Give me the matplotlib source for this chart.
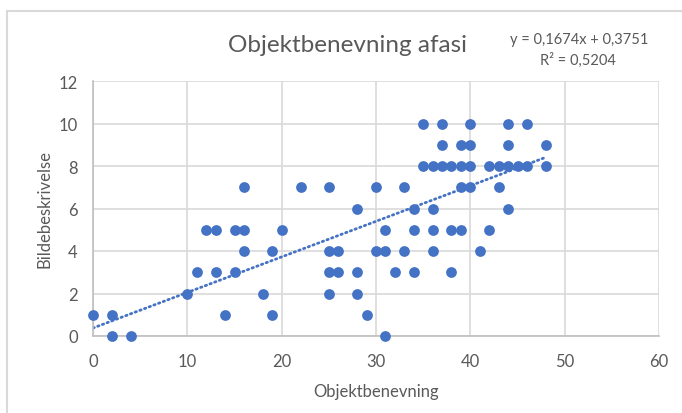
import matplotlib.pyplot as plt
from matplotlib.patches import Rectangle
import numpy as np

plt.rcParams['font.family'] = ['Lato', 'DejaVu Sans']

# data (x = Objektbenevning, y = Bildebeskrivelse)
objekt = [0, 2, 2, 4, 10, 11, 13, 15, 12, 13, 15, 16, 16, 16, 14, 18, 19, 19, 20,
          22, 25, 25, 25, 25, 26, 26, 28, 28, 28, 29, 30, 30, 31, 31, 31, 32, 33, 33,
          34, 34, 34, 35, 35, 36, 36, 36, 36, 37, 37, 37, 38, 38, 38, 39, 39, 39, 39,
          40, 40, 40, 40, 41, 42, 42, 43, 43, 44, 44, 44, 44, 45, 46, 46, 48, 48]
bilde = [1, 1, 0, 0, 2, 3, 3, 3, 5, 5, 5, 5, 4, 7, 1, 2, 4, 1, 5,
         7, 7, 4, 3, 2, 4, 3, 6, 3, 2, 1, 7, 4, 4, 5, 0, 3, 7, 4,
         6, 5, 3, 10, 8, 8, 6, 5, 4, 10, 9, 8, 8, 5, 3, 9, 8, 7, 5,
         10, 9, 8, 7, 4, 8, 5, 8, 7, 10, 9, 8, 6, 8, 10, 8, 9, 8]

# Excel linear trendline
slope = 0.1674
intercept = 0.3751
r2 = 0.5204

blue = '#4472C4'
grey_txt = '#595959'

fig = plt.figure(figsize=(6.82, 4.14), dpi=100)
# chart border (cropped on right/bottom in the original)
fig.patches.append(Rectangle((7 / 682, -0.1), 1.2, 1.1 - 12 / 414,
                             transform=fig.transFigure, fill=False,
                             edgecolor='#D9D9D9', lw=1.5))

ax = fig.add_axes([93 / 682, 77 / 414, 566 / 682, 255 / 414])
ax.set_xlim(0, 60)
ax.set_ylim(0, 12)
ax.set_xticks(range(0, 61, 10))
ax.set_yticks(range(0, 13, 2))
ax.grid(True, color='#D9D9D9', lw=1.2)
ax.set_axisbelow(True)
for s in ['top', 'right']:
    ax.spines[s].set_visible(False)
for s in ['left', 'bottom']:
    ax.spines[s].set_color('#BFBFBF')
    ax.spines[s].set_linewidth(1.2)
ax.tick_params(length=0, labelsize=12, labelcolor=grey_txt)
ax.tick_params(axis='x', pad=12)
ax.tick_params(axis='y', pad=11)

ax.scatter(objekt, bilde, s=60, color=blue, zorder=3, clip_on=False, linewidths=0)

xs = np.array([0, max(objekt)])
ax.plot(xs, slope * xs + intercept, color=blue, lw=2,
        linestyle=(0, (0.5, 1.3)), dash_capstyle='round', zorder=2)

ax.set_xlabel('Objektbenevning', fontsize=12, color=grey_txt, labelpad=10)
ax.set_ylabel('Bildebeskrivelse', fontsize=12, color=grey_txt, labelpad=4)

fig.text(347 / 682, 1 - 45 / 414, 'Objektbenevning afasi', fontsize=17.5,
         color=grey_txt, ha='center', va='center')
eq = 'y = ' + f'{slope:.4f}'.replace('.', ',') + 'x + ' + f'{intercept:.4f}'.replace('.', ',')
fig.text(579 / 682, 1 - 40 / 414, eq, fontsize=10.5, color=grey_txt, ha='center', va='center')
fig.text(578 / 682, 1 - 60 / 414, 'R² = ' + f'{r2:.4f}'.replace('.', ','), fontsize=10.5,
         color=grey_txt, ha='center', va='center')

fig.savefig('out.png', dpi=100)
